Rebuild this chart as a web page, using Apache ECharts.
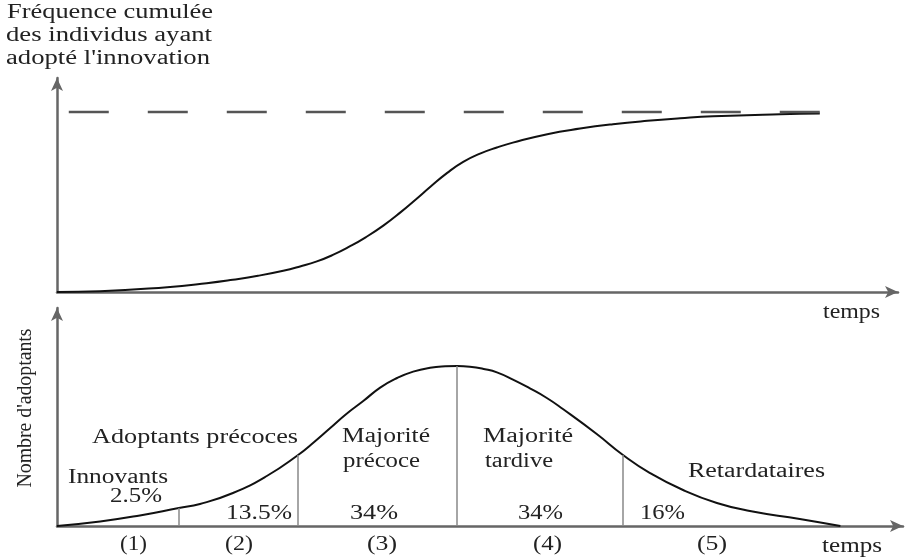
<!DOCTYPE html>
<html><head><meta charset="utf-8">
<script src="https://cdn.jsdelivr.net/npm/echarts@6/dist/echarts.min.js"></script>
<style>html,body{margin:0;padding:0;background:#fff}#c{width:907px;height:560px}</style>
</head><body><div id="c"></div>
<script>
// ---- data ----
const cumulTime  = [0, 5.1, 13.1, 17.8, 20.9, 23.9, 26.9, 28.9, 30.9, 32.8, 34.8, 36.7, 38.8, 40.8, 42.8, 44.4, 46.4, 48.3, 50.3, 52.3, 54.2, 58.3, 62.2, 66.1, 70.2, 74.1, 78.0, 86.0, 90.7];
const cumulShare = [0, 0.4, 2.7, 4.9, 6.8, 9.0, 11.8, 14.2, 17.0, 20.6, 25.3, 30.4, 36.9, 44.1, 52.0, 58.5, 66.2, 72.3, 76.9, 80.3, 83.0, 87.7, 90.8, 93.2, 95.1, 96.5, 97.6, 98.8, 99.2];
const saturationLevel = 100;
const saturationSpan = [1.4, 90.7];
const adoptTime = [0, 5.1, 9.8, 14.4, 16.9, 20.8, 24.8, 28.5, 30.4, 32.3, 34.2, 36.2, 38.2, 40.2, 42.1, 44.1, 45.9, 47.3, 48.8, 50.6, 52.0, 53.9, 55.9, 57.9, 59.8, 63.8, 66.9, 70.1, 74.0, 78.0, 81.9, 87.8, 92.6];
const adopters  = [0, 2.8, 6.6, 11.25, 13.75, 20.6, 31.25, 44.4, 52.5, 61.25, 70.0, 78.1, 86.5, 92.5, 96.5, 98.9, 99.8, 100, 99.6, 98.0, 96.0, 91.5, 86.0, 80.0, 73.1, 57.5, 44.4, 33.1, 22.5, 14.4, 9.4, 4.4, 0];
const boundaryTime = [14.4, 28.5, 47.3, 66.9];
const boundaryAdopters = [11.25, 44.4, 100, 44.4];
const groupNames = [['Innovants'], ['Adoptants précoces'], ['Majorité', 'précoce'], ['Majorité', 'tardive'], ['Retardataires']];
const groupShares = ['2.5%', '13.5%', '34%', '34%', '16%'];
const groupIndex = ['(1)', '(2)', '(3)', '(4)', '(5)'];
const topYTitle = ['Fréquence cumulée', 'des individus ayant', "adopté l'innovation"];
const bottomYTitle = "Nombre d'adoptants";
const xTitle = 'temps';

// ---- layout (pixel positions of annotation text) ----
const FONT = '20px "Liberation Serif"';
const ctx = document.createElement('canvas').getContext('2d');
function fitScale(text, w) { ctx.font = FONT; return w / ctx.measureText(text).width; }
const texts = [];
function addText(text, x, y, w, rot) {
  texts.push({
    type: 'text', x: x, y: y, scaleX: fitScale(text, w), rotation: rot || 0, silent: true,
    style: { text: text, font: FONT, fill: '#222', textAlign: rot ? 'center' : 'left',
             verticalAlign: 'middle', textVerticalAlign: 'middle' }
  });
}
const titlePos = [[7, 13, 206], [6, 36, 206], [6, 59, 204]];
topYTitle.forEach((t, i) => addText(t, titlePos[i][0], titlePos[i][1], titlePos[i][2]));
addText(xTitle, 823, 313, 57);
addText(xTitle, 822, 547, 60);
addText(bottomYTitle, 26, 408, 159, Math.PI / 2);
const namePos = [[[68, 478, 100]], [[92, 438, 206]], [[342, 437, 88], [343, 462, 77]], [[483, 437, 90], [485, 462, 68]], [[688, 472, 137]]];
groupNames.forEach((lines, i) => lines.forEach((l, j) => addText(l, namePos[i][j][0], namePos[i][j][1], namePos[i][j][2])));
const sharePos = [[110, 497, 52], [226, 514, 66], [350, 514, 48], [518, 514, 45], [640, 514, 45]];
groupShares.forEach((s, i) => addText(s, sharePos[i][0], sharePos[i][1], sharePos[i][2]));
const idxPos = [[120, 545, 27], [225, 545, 28], [367, 545, 30], [533, 545, 29], [697, 545, 30]];
groupIndex.forEach((s, i) => addText(s, idxPos[i][0], idxPos[i][1], idxPos[i][2]));

const axisLine = { show: true, symbol: ['none', 'arrow'], symbolSize: [9, 13], lineStyle: { color: '#666', width: 2.5 } };
const off = { axisTick: { show: false }, axisLabel: { show: false }, splitLine: { show: false } };

const chart = echarts.init(document.getElementById('c'), null, { renderer: 'canvas' });
chart.setOption({
  animation: false,
  backgroundColor: '#fff',
  grid: [
    { left: 57, right: 9, top: 78, bottom: 268 },
    { left: 57, right: 4, top: 308, bottom: 34 }
  ],
  xAxis: [
    Object.assign({ type: 'value', gridIndex: 0, min: 0, max: 100, axisLine: axisLine }, off),
    Object.assign({ type: 'value', gridIndex: 1, min: 0, max: 100, axisLine: axisLine }, off)
  ],
  yAxis: [
    Object.assign({ type: 'value', gridIndex: 0, min: 0, max: 118.9, axisLine: axisLine }, off),
    Object.assign({ type: 'value', gridIndex: 1, min: 0, max: 136.25, axisLine: axisLine }, off)
  ],
  series: [
    {
      type: 'line', xAxisIndex: 0, yAxisIndex: 0, symbol: 'none', smooth: 0.5, silent: true,
      lineStyle: { color: '#111', width: 2 },
      data: cumulTime.map((t, i) => [t, cumulShare[i]])
    },
    {
      type: 'line', xAxisIndex: 0, yAxisIndex: 0, symbol: 'none', silent: true,
      lineStyle: { color: '#555', width: 2.5, type: [40, 39] },
      data: saturationSpan.map(t => [t, saturationLevel])
    },
    {
      type: 'line', xAxisIndex: 1, yAxisIndex: 1, symbol: 'none', smooth: 0.5, silent: true,
      lineStyle: { color: '#111', width: 2 },
      data: adoptTime.map((t, i) => [t, adopters[i]]),
      markLine: {
        silent: true, symbol: ['none', 'none'], label: { show: false },
        lineStyle: { color: '#888', width: 1.5, type: 'solid' },
        data: boundaryTime.map((t, i) => [{ coord: [t, 0] }, { coord: [t, boundaryAdopters[i]] }])
      }
    }
  ],
  graphic: texts
});
</script>
</body></html>
